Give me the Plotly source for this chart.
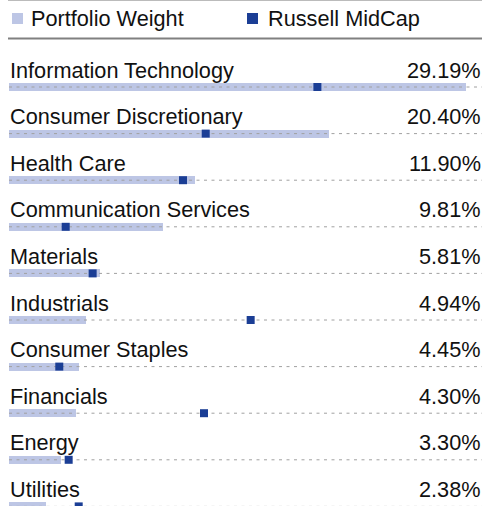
import plotly.graph_objects as go

# ---- data ----
sectors = ["Information Technology", "Consumer Discretionary", "Health Care",
           "Communication Services", "Materials", "Industrials",
           "Consumer Staples", "Financials", "Energy", "Utilities"]
portfolio_weight = [29.19, 20.40, 11.90, 9.81, 5.81, 4.94, 4.45, 4.30, 3.30, 2.38]
russell_midcap = [19.69, 12.56, 11.11, 3.62, 5.34, 15.43, 3.21, 12.45, 3.81, 4.45]
pct_labels = [f"{v:.2f}%" for v in portfolio_weight]
legend_names = ["Portfolio Weight", "Russell MidCap"]

# ---- style ----
W, H = 482, 506
ML = 9
BAR_COLOR = "#bdc6e5"
MARK_COLOR = "#1b3e95"
FONT = "Liberation Sans, Arial, Helvetica, sans-serif"
FS = 21.7
XMAX = 30.2
rows = list(range(len(sectors)))

pitch = 46.6
first_center = 87
y_top = -first_center / pitch
y_bot = (H - first_center) / pitch
label_off = 17.0 / pitch  # label sits above its bar, in row units

fig = go.Figure()

fig.add_trace(go.Bar(
    x=portfolio_weight, y=rows, orientation="h", base=0,
    marker=dict(color=BAR_COLOR, line=dict(width=0)),
    width=0.17, name=legend_names[0], showlegend=False, hoverinfo="skip",
))

# dashed guide lines across each row
gx, gy = [], []
for r in rows:
    gx += [0, XMAX, None]
    gy += [r, r, None]
fig.add_trace(go.Scatter(
    x=gx, y=gy, mode="lines",
    line=dict(color="#a0a0a0", width=1, dash="3px,4.5px"),
    showlegend=False, hoverinfo="skip",
))

fig.add_trace(go.Scatter(
    x=russell_midcap, y=rows, mode="markers",
    marker=dict(symbol="square", size=8, color=MARK_COLOR, line=dict(width=0)),
    name=legend_names[1], showlegend=False, hoverinfo="skip",
))

annotations = []
for r, name, lab in zip(rows, sectors, pct_labels):
    annotations.append(dict(
        x=0, y=r - label_off, xref="x", yref="y", text=name, showarrow=False,
        xanchor="left", yanchor="middle", xshift=-1,
        font=dict(family=FONT, size=FS, color="#111111"),
    ))
    annotations.append(dict(
        x=1, y=r - label_off, xref="paper", yref="y", text=lab, showarrow=False,
        xanchor="right", yanchor="middle", xshift=1,
        font=dict(family=FONT, size=FS, color="#111111"),
    ))

def px_x(p):
    return (p - ML) / (W - ML)

def px_y(p):
    return 1 - p / H

# legend
leg_y = 18.5
annotations.append(dict(x=px_x(29), y=px_y(leg_y), xref="paper", yref="paper",
                        text=legend_names[0], showarrow=False, xanchor="left", yanchor="middle",
                        font=dict(family=FONT, size=FS, color="#111111")))
annotations.append(dict(x=px_x(266), y=px_y(leg_y), xref="paper", yref="paper",
                        text=legend_names[1], showarrow=False, xanchor="left", yanchor="middle",
                        font=dict(family=FONT, size=FS, color="#111111")))

shapes = [
    dict(type="rect", xref="paper", yref="paper", x0=px_x(12), x1=px_x(23),
         y0=px_y(24), y1=px_y(13), fillcolor=BAR_COLOR, line=dict(width=0)),
    dict(type="rect", xref="paper", yref="paper", x0=px_x(247), x1=px_x(258),
         y0=px_y(24), y1=px_y(13), fillcolor=MARK_COLOR, line=dict(width=0)),
    dict(type="line", xref="paper", yref="paper", x0=px_x(8), x1=1,
         y0=px_y(0.5), y1=px_y(0.5), line=dict(color="#bbbbbb", width=1)),
    dict(type="line", xref="paper", yref="paper", x0=px_x(8), x1=1,
         y0=px_y(38.5), y1=px_y(38.5), line=dict(color="#808080", width=2)),
]

fig.update_layout(
    width=W, height=H,
    margin=dict(l=ML, r=0, t=0, b=0),
    paper_bgcolor="white", plot_bgcolor="white",
    xaxis=dict(range=[0, XMAX], visible=False, fixedrange=True),
    yaxis=dict(range=[y_bot, y_top], visible=False, fixedrange=True),
    annotations=annotations, shapes=shapes, showlegend=False,
    bargap=0,
)

fig.write_html("out.html")
